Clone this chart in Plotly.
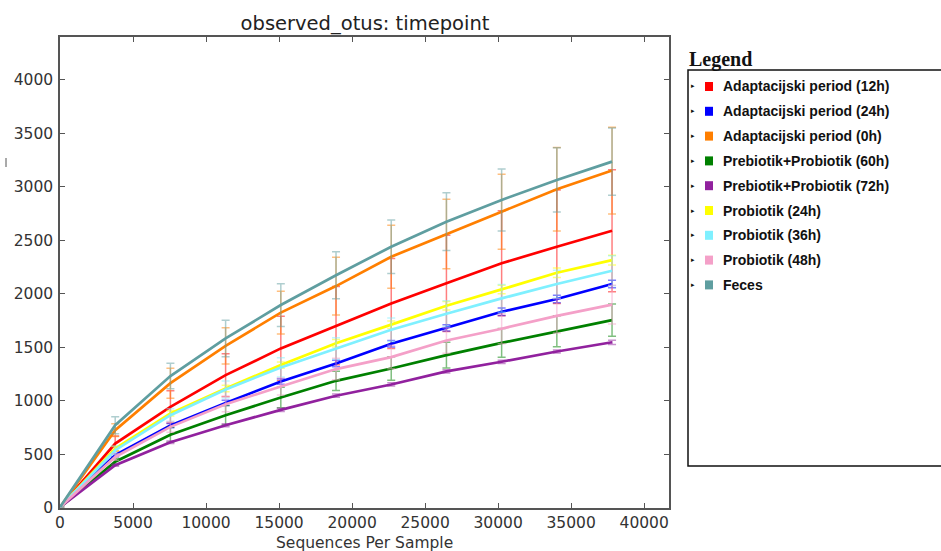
import plotly.graph_objects as go

# ---------------- data ----------------
seqs_per_sample = [10, 3780, 7560, 11340, 15120, 18900, 22680, 26460, 30240, 34020, 37800]

series_names = [
    "Adaptacijski period (12h)",
    "Adaptacijski period (24h)",
    "Adaptacijski period (0h)",
    "Prebiotik+Probiotik (60h)",
    "Prebiotik+Probiotik (72h)",
    "Probiotik (24h)",
    "Probiotik (36h)",
    "Probiotik (48h)",
    "Feces",
]

adapt_12h = [9, 602, 945, 1241, 1491, 1704, 1911, 2099, 2286, 2441, 2590]
adapt_24h = [9, 493, 770, 982, 1182, 1350, 1534, 1683, 1833, 1953, 2092]
adapt_0h = [9, 727, 1166, 1515, 1825, 2073, 2347, 2560, 2768, 2977, 3152]
prepro_60h = [9, 432, 685, 867, 1032, 1188, 1303, 1428, 1543, 1652, 1755]
prepro_72h = [9, 399, 614, 773, 917, 1049, 1154, 1276, 1366, 1462, 1548]
pro_24h = [9, 555, 884, 1117, 1335, 1540, 1713, 1890, 2042, 2198, 2316]
pro_36h = [9, 540, 867, 1107, 1313, 1490, 1665, 1815, 1958, 2092, 2216]
pro_48h = [9, 477, 758, 970, 1135, 1298, 1410, 1565, 1675, 1795, 1900]
feces = [9, 773, 1233, 1584, 1896, 2174, 2441, 2675, 2878, 3065, 3236]

err_adapt_12h = [0, 70, 150, 200, 300, 365, 420, 450, 490, 530, 570]
err_adapt_24h = [0, 15, 20, 25, 25, 30, 30, 30, 35, 35, 35]
err_adapt_0h = [0, 60, 140, 170, 200, 270, 295, 325, 350, 390, 405]
err_prepro_60h = [0, 30, 70, 90, 95, 90, 110, 120, 135, 145, 150]
err_prepro_72h = [0, 10, 12, 15, 15, 15, 15, 15, 15, 15, 20]
err_pro_24h = [0, 20, 25, 30, 30, 35, 35, 40, 40, 45, 45]
err_pro_36h = [0, 40, 60, 80, 90, 100, 110, 120, 130, 130, 140]
err_pro_48h = [0, 30, 50, 70, 80, 100, 110, 120, 140, 160, 180]
err_feces = [0, 80, 120, 170, 200, 220, 250, 270, 290, 300, 315]

x_tick_vals = [0, 5000, 10000, 15000, 20000, 25000, 30000, 35000, 40000]
y_tick_vals = [0, 500, 1000, 1500, 2000, 2500, 3000, 3500, 4000]

# ---------------- styling ----------------
series_values = [adapt_12h, adapt_24h, adapt_0h, prepro_60h, prepro_72h,
                 pro_24h, pro_36h, pro_48h, feces]
series_errors = [err_adapt_12h, err_adapt_24h, err_adapt_0h, err_prepro_60h,
                 err_prepro_72h, err_pro_24h, err_pro_36h, err_pro_48h, err_feces]
colors = ["#ff0000", "#0000ff", "#ff7f00", "#008000", "#91219e",
          "#ffff00", "#7ff0ff", "#f4a0c8", "#5f9ea0"]


def rgba(hexc, a):
    h = hexc.lstrip("#")
    r, g, b = int(h[0:2], 16), int(h[2:4], 16), int(h[4:6], 16)
    return f"rgba({r},{g},{b},{a})"


W, H = 941, 551
L, R, T, B = 60, 669, 37, 508


def px_x(px):
    return (px - L) / (R - L)


def px_y(py):
    return (B - py) / (B - T)


fig = go.Figure()
for name, vals, errs, col in zip(series_names, series_values, series_errors, colors):
    fig.add_trace(go.Scatter(
        x=seqs_per_sample, y=vals, mode="lines", name=name,
        line=dict(color=col, width=2.7),
        error_y=dict(type="data", array=errs, visible=True,
                     color=rgba(col, 0.5), thickness=1.5, width=4),
        showlegend=False,
    ))

axis_font = dict(family="DejaVu Sans", size=15.5, color="#333333")
fig.update_layout(
    width=W, height=H,
    margin=dict(l=L, r=W - R, t=T, b=H - B, autoexpand=False),
    paper_bgcolor="white", plot_bgcolor="white",
    title=dict(text="observed_otus: timepoint", x=365 / W, xanchor="center",
               y=1 - 23 / H, yanchor="middle",
               font=dict(family="DejaVu Sans", size=19.5, color="#222222")),
    xaxis=dict(range=[0, 41700], tickvals=x_tick_vals, tickformat="d",
               ticks="inside", ticklen=5,
               tickcolor="#555555", showline=True, linecolor="#555555", linewidth=1.5,
               mirror="ticks", showgrid=False, zeroline=False, tickfont=axis_font,
               automargin=False),
    yaxis=dict(range=[0, 4400], tickvals=y_tick_vals, tickformat="d",
               ticks="inside", ticklen=5, ticklabelstandoff=2,
               tickcolor="#555555", showline=True, linecolor="#555555", linewidth=1.5,
               mirror="ticks", showgrid=False, zeroline=False, tickfont=axis_font,
               automargin=False),
)

# x-axis title
fig.add_annotation(text="Sequences Per Sample", xref="paper", yref="paper",
                   x=px_x(364), y=px_y(543), xanchor="center", yanchor="middle",
                   showarrow=False,
                   font=dict(family="DejaVu Sans", size=15.5, color="#333333"))

# small clipped label mark at left edge
fig.add_shape(type="line", xref="paper", yref="paper",
              x0=px_x(6), x1=px_x(6), y0=px_y(158), y1=px_y(167),
              line=dict(color="#555555", width=1))

# ---------------- custom legend ----------------
fig.add_shape(type="rect", xref="paper", yref="paper",
              x0=px_x(688), x1=px_x(945), y0=px_y(70), y1=px_y(466),
              line=dict(color="#111111", width=1.5), fillcolor="rgba(0,0,0,0)")
fig.add_annotation(text="<b>Legend</b>", xref="paper", yref="paper",
                   x=px_x(687), y=px_y(59), xanchor="left", yanchor="middle",
                   showarrow=False,
                   font=dict(family="Liberation Serif", size=20, color="#111111"))
for i, (name, col) in enumerate(zip(series_names, colors)):
    ypx = 86.5 + i * 24.8
    fig.add_annotation(text="▸", xref="paper", yref="paper", x=px_x(693), y=px_y(ypx),
                       xanchor="center", yanchor="middle", showarrow=False,
                       font=dict(family="DejaVu Sans", size=7, color="#111111"))
    fig.add_shape(type="rect", xref="paper", yref="paper",
                  x0=px_x(705), x1=px_x(713), y0=px_y(ypx - 4.5), y1=px_y(ypx + 4.5),
                  line=dict(width=0), fillcolor=col)
    fig.add_annotation(text=f"<b>{name}</b>", xref="paper", yref="paper",
                       x=px_x(721), y=px_y(ypx), xanchor="left", yanchor="middle",
                       showarrow=False,
                       font=dict(family="Liberation Sans", size=14, color="#111111"))

fig.write_html("out.html", config={"displayModeBar": False},
               post_script="document.body.style.margin='0px';")
